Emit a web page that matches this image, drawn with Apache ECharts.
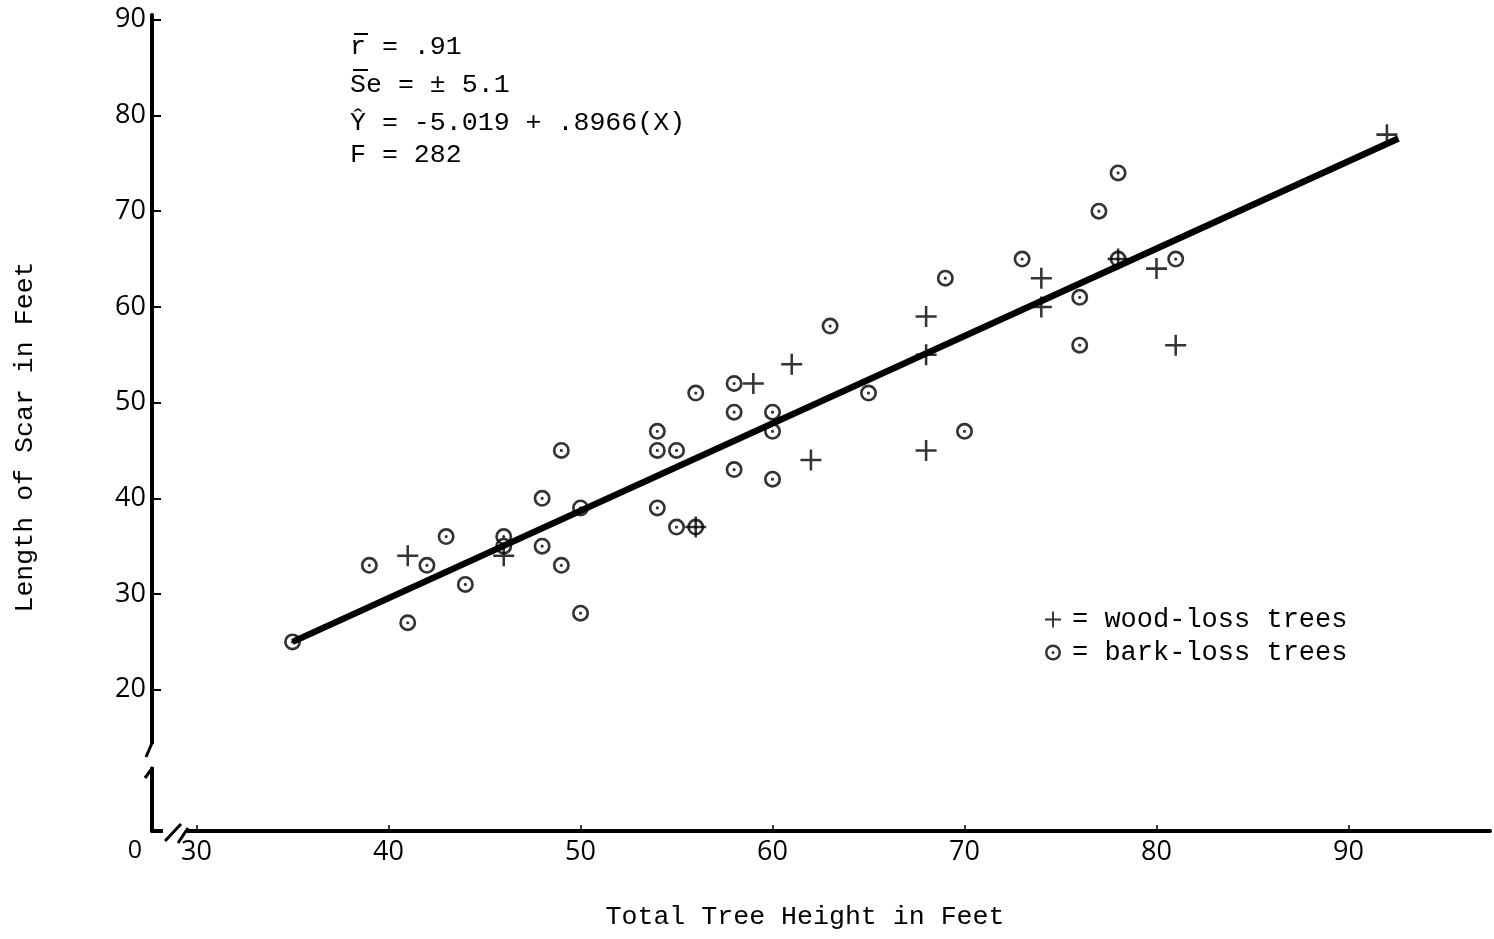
<!DOCTYPE html>
<html>
<head>
<meta charset="utf-8">
<title>Length of Scar vs Total Tree Height</title>
<script src="https://cdn.jsdelivr.net/npm/echarts@6/dist/echarts.min.js"></script>
<style>
html,body{margin:0;padding:0;background:#fff;}
#chart{width:1494px;height:939px;}
</style>
</head>
<body>
<div id="chart"></div>
<script>
// tick labels
var xTicks = [30, 40, 50, 60, 70, 80, 90];
var yTicks = [20, 30, 40, 50, 60, 70, 80, 90];
// wood-loss trees (+)
var woodX = [41, 46, 56, 59, 61, 62, 68, 68, 68, 74, 74, 78, 80, 81, 92];
var woodY = [34, 34, 37, 52, 54, 44, 59, 55, 45, 63, 60, 65, 64, 56, 78];
// bark-loss trees (circle with dot)
var barkX = [35, 39, 41, 42, 43, 44, 46, 46, 48, 48, 49, 49, 50, 50, 54, 54, 54, 55, 55, 56, 56, 58, 58, 58, 60, 60, 60, 63, 65, 69, 70, 73, 76, 76, 77, 78, 78, 81];
var barkY = [25, 33, 27, 33, 36, 31, 36, 35, 40, 35, 45, 33, 28, 39, 47, 45, 39, 45, 37, 51, 37, 52, 49, 43, 49, 47, 42, 58, 51, 63, 47, 65, 61, 56, 70, 74, 65, 65];
// fitted line as drawn (ends)
var fitX = [35, 92.6];
var fitY = [25, 77.6];
// stats block
var statLines = ['r = .91', 'Se = \u00b1 5.1', '\u0176 = -5.019 + .8966(X)', 'F = 282'];

var mono = '"Liberation Mono", "DejaVu Sans Mono", monospace';
var hand = '"Open Sans", "DejaVu Sans", sans-serif';
var ink = '#000';

var plusPath = 'path://M0,8.8L20,8.8L20,11.2L0,11.2Z M8.8,0L11.2,0L11.2,20L8.8,20Z';
var ringPath = 'path://M0,8A8,8 0 1 1 16,8A8,8 0 1 1 0,8Z'
	+ 'M2.5,8A5.5,5.5 0 1 0 13.5,8A5.5,5.5 0 1 0 2.5,8Z'
	+ 'M6.5,8A1.5,1.5 0 1 1 9.5,8A1.5,1.5 0 1 1 6.5,8Z';

function pairs(xs, ys){
	var out = [];
	for(var i = 0; i < xs.length; i++){
		out.push([xs[i], ys[i]]);
	}
	return out;
}

function statText(){
	var items = [];
	var rows = [48, 86, 124, 156];
	statLines.forEach(function(t, i){
		items.push({
			type: 'text', left: 350, top: rows[i] - 15, z: 10,
			style: {text: t, fill: ink, font: '26.6px ' + mono}
		});
	});
	// overbars on r and S
	items.push({type: 'line', z: 10, shape: {x1: 354, y1: 34, x2: 368, y2: 34}, style: {stroke: ink, lineWidth: 2}});
	items.push({type: 'line', z: 10, shape: {x1: 353, y1: 70, x2: 368, y2: 70}, style: {stroke: ink, lineWidth: 2}});
	return items;
}

var chart = echarts.init(document.getElementById('chart'));
var option = {
	animation: false,
	backgroundColor: '#fff',
	grid: {left: 152, right: 4, top: 15, bottom: 108, outerBoundsMode: 'none'},
	xAxis: {
		type: 'value',
		min: 27.68,
		max: 97.37,
		splitLine: {show: false},
		axisLine: {onZero: false, lineStyle: {color: ink, width: 4}},
		axisTick: {customValues: xTicks, inside: true, length: 6, lineStyle: {color: ink, width: 1.5}},
		axisLabel: {customValues: xTicks, margin: 8, color: ink, fontFamily: hand, fontSize: 27}
	},
	yAxis: {
		type: 'value',
		min: 5.24,
		max: 90.5,
		splitLine: {show: false},
		axisLine: {onZero: false, lineStyle: {color: ink, width: 4}},
		axisTick: {customValues: yTicks, inside: true, length: 9, lineStyle: {color: ink, width: 2}},
		axisLabel: {customValues: yTicks, margin: 6, color: ink, fontFamily: hand, fontSize: 27}
	},
	legend: {
		orient: 'vertical',
		left: 1040,
		top: 601,
		itemWidth: 16,
		itemHeight: 16,
		itemGap: 6,
		selectedMode: false,
		data: [
			{name: 'wood-loss trees', icon: plusPath},
			{name: 'bark-loss trees', icon: ringPath}
		],
		formatter: '= {name}',
		textStyle: {fontFamily: mono, fontSize: 27, color: ink, lineHeight: 26, padding: [0, 0, 0, 6]}
	},
	series: [
		{
			name: 'fit',
			type: 'line',
			data: pairs(fitX, fitY),
			showSymbol: false,
			silent: true,
			z: 1,
			lineStyle: {color: ink, width: 6.5}
		},
		{
			name: 'wood-loss trees',
			type: 'scatter',
			data: pairs(woodX, woodY),
			symbol: plusPath,
			symbolSize: 21,
			z: 3,
			itemStyle: {color: ink}
		},
		{
			name: 'bark-loss trees',
			type: 'scatter',
			data: pairs(barkX, barkY),
			symbol: ringPath,
			symbolSize: 17,
			z: 3,
			itemStyle: {color: ink}
		}
	],
	graphic: [
		// axis titles
		{type: 'text', x: 805, y: 917, z: 10, style: {text: 'Total Tree Height in Feet', fill: ink, font: '26.6px ' + mono, align: 'center', verticalAlign: 'middle'}},
		{type: 'text', x: 25, y: 437, rotation: Math.PI / 2, z: 10, style: {text: 'Length of Scar in Feet', fill: ink, font: '26.6px ' + mono, align: 'center', verticalAlign: 'middle'}},
		// origin label
		{type: 'text', x: 135, y: 851, z: 10, style: {text: '0', fill: ink, font: '25px ' + hand, align: 'center', verticalAlign: 'middle'}},
		// y axis break
		{type: 'rect', z: 20, shape: {x: 146, y: 744, width: 12, height: 23}, style: {fill: '#fff'}},
		{type: 'line', z: 21, shape: {x1: 152, y1: 743, x2: 146, y2: 757}, style: {stroke: ink, lineWidth: 3}},
		{type: 'line', z: 21, shape: {x1: 153, y1: 767, x2: 145, y2: 778}, style: {stroke: ink, lineWidth: 3}},
		// x axis break
		{type: 'rect', z: 20, shape: {x: 163, y: 827, width: 24, height: 9}, style: {fill: '#fff'}},
		{type: 'line', z: 21, shape: {x1: 165, y1: 841, x2: 181, y2: 824}, style: {stroke: ink, lineWidth: 3}},
		{type: 'line', z: 21, shape: {x1: 178, y1: 843, x2: 188, y2: 828}, style: {stroke: ink, lineWidth: 3}}
	].concat(statText())
};
chart.setOption(option);
</script>
</body>
</html>
